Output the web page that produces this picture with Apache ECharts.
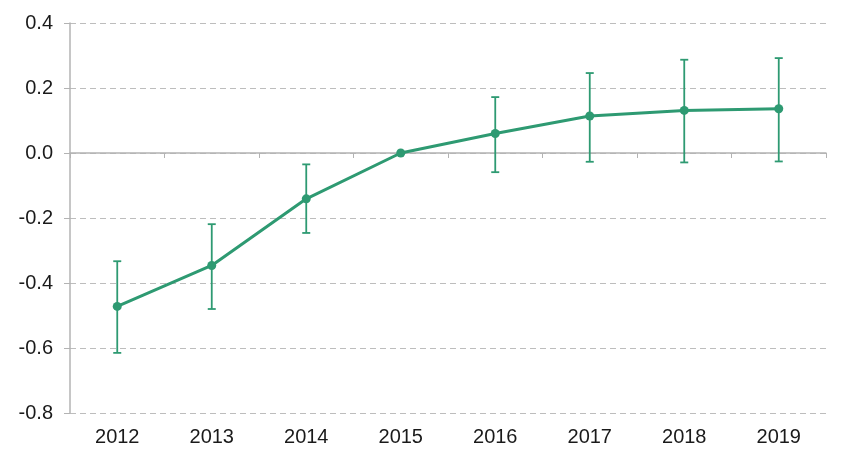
<!DOCTYPE html>
<html>
<head>
<meta charset="utf-8">
<script src="https://cdn.jsdelivr.net/npm/echarts@6/dist/echarts.min.js"></script>
<style>
  html, body { margin: 0; padding: 0; background: #fff; }
  #main { width: 848px; height: 472px; }
</style>
</head>
<body>
<div id="main"></div>
<script>
var years = ['2012', '2013', '2014', '2015', '2016', '2017', '2018', '2019'];
var estimate = [-0.472, -0.346, -0.141, 0, 0.060, 0.114, 0.131, 0.136];
var upper = [-0.333, -0.219, -0.035, 0, 0.172, 0.246, 0.287, 0.292];
var lower = [-0.615, -0.480, -0.246, 0, -0.059, -0.027, -0.029, -0.026];

var green = '#2e9a72';

var errData = [];
for (var i = 0; i < years.length; i++) {
  if (upper[i] !== lower[i]) {
    errData.push([i, lower[i], upper[i]]);
  }
}

var chart = echarts.init(document.getElementById('main'));

var option = {
  backgroundColor: '#fff',
  animation: false,
  textStyle: { fontFamily: 'Liberation Sans, Arial, sans-serif' },
  grid: { left: 70, right: 22, top: 23, bottom: 59 },
  xAxis: [{
    type: 'category',
    data: years,
    boundaryGap: true,
    axisLine: { onZero: true, lineStyle: { color: '#b3b3b3', width: 1.5 } },
    axisTick: { show: true, length: 5, inside: false, lineStyle: { color: '#b3b3b3' } },
    axisLabel: { show: false }
  }, {
    type: 'category',
    data: years,
    position: 'bottom',
    boundaryGap: true,
    axisLine: { show: false, onZero: false },
    axisTick: { show: false },
    axisLabel: { color: '#1a1a1a', fontSize: 20, margin: 14 }
  }],
  yAxis: {
    type: 'value',
    min: -0.8,
    max: 0.4,
    interval: 0.2,
    axisLine: { show: true, lineStyle: { color: '#b3b3b3', width: 1.5 } },
    axisTick: { show: true, length: 6, lineStyle: { color: '#b3b3b3' } },
    axisLabel: {
      color: '#1a1a1a',
      fontSize: 20,
      margin: 17,
      formatter: function (v) { return v.toFixed(1); }
    },
    splitLine: { lineStyle: { color: '#bdbdbd', type: [6, 4], width: 1 } }
  },
  series: [{
    type: 'custom',
    xAxisIndex: 0,
    data: errData,
    z: 1,
    renderItem: function (params, api) {
      var x = api.value(0);
      var lo = api.coord([x, api.value(1)]);
      var hi = api.coord([x, api.value(2)]);
      var cap = 4;
      var st = { stroke: green, lineWidth: 1.8 };
      return {
        type: 'group',
        children: [
          { type: 'line', shape: { x1: lo[0], y1: lo[1], x2: hi[0], y2: hi[1] }, style: st },
          { type: 'line', shape: { x1: hi[0] - cap, y1: hi[1], x2: hi[0] + cap, y2: hi[1] }, style: st },
          { type: 'line', shape: { x1: lo[0] - cap, y1: lo[1], x2: lo[0] + cap, y2: lo[1] }, style: st }
        ]
      };
    }
  }, {
    type: 'line',
    xAxisIndex: 0,
    data: estimate,
    z: 3,
    symbol: 'circle',
    symbolSize: 9,
    lineStyle: { color: green, width: 3 },
    itemStyle: { color: green }
  }]
};

chart.setOption(option);
</script>
</body>
</html>
